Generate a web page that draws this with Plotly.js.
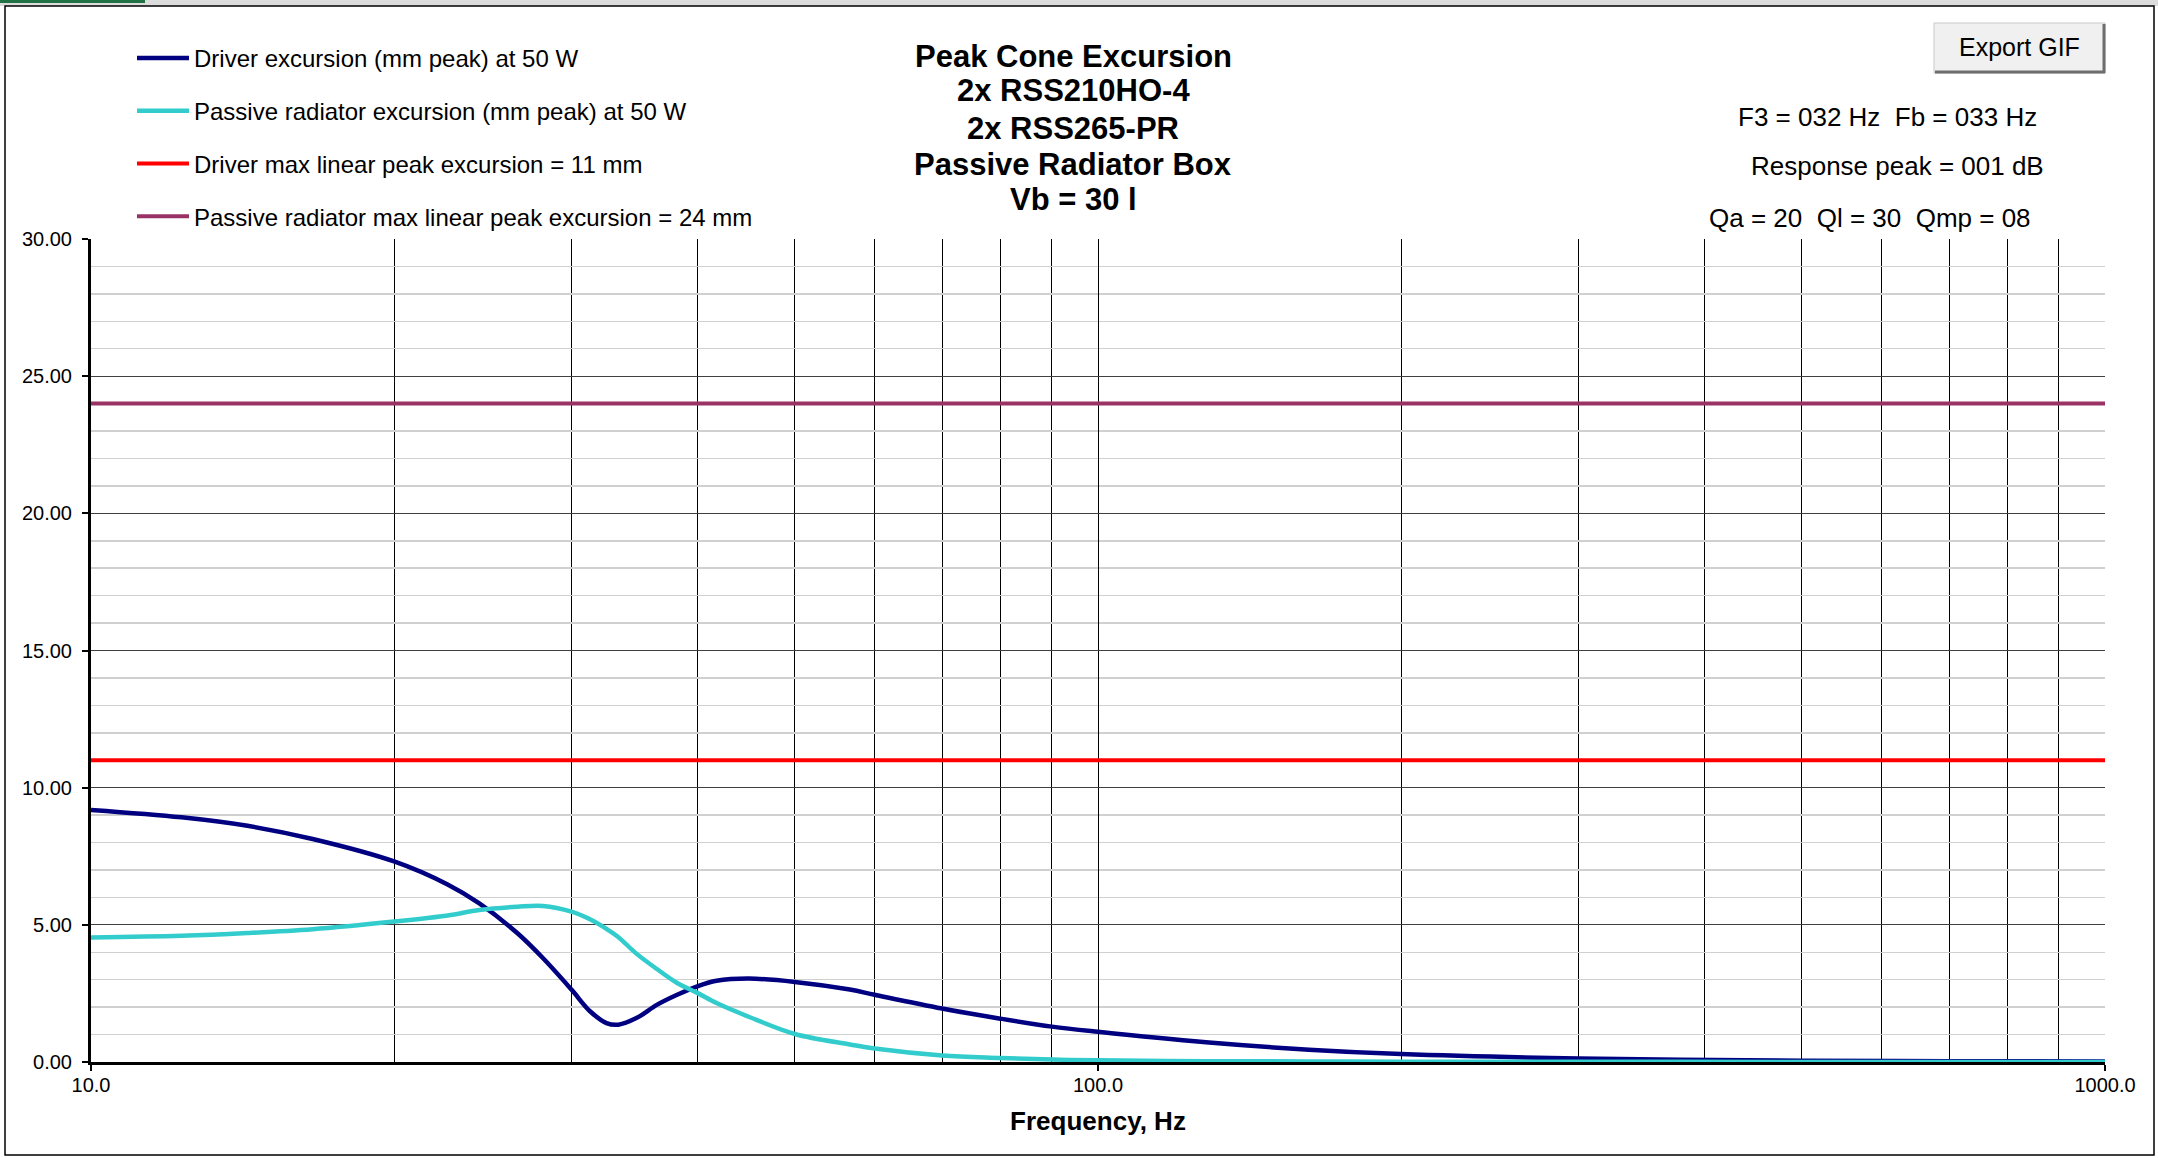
<!DOCTYPE html>
<html>
<head>
<meta charset="utf-8">
<script src="https://cdn.plot.ly/plotly-3.0.1.min.js"></script>
<style>
  html, body { margin: 0; padding: 0; background: #ffffff; }
  #chart { width: 2158px; height: 1158px; }
</style>
</head>
<body>
<div id="chart"></div>
<script>
// ---- Data ----
const freqHz = [10, 12.3, 14.3, 16.6, 20, 22.6, 24.3, 26.5, 28.1, 30, 31.3, 32.5, 33.4, 34.8, 36.5, 38.2, 40, 41.8, 45, 50, 56.7, 60, 70, 80, 90, 100, 128, 162, 200, 300, 500, 700, 1000];
const driverExcursion = [9.19, 8.92, 8.61, 8.13, 7.31, 6.47, 5.78, 4.70, 3.79, 2.64, 1.85, 1.42, 1.36, 1.60, 2.09, 2.45, 2.76, 2.96, 3.04, 2.92, 2.64, 2.45, 1.95, 1.58, 1.29, 1.10, 0.72, 0.45, 0.29, 0.13, 0.05, 0.03, 0.02];
const passiveExcursion = [4.54, 4.60, 4.70, 4.84, 5.12, 5.34, 5.54, 5.66, 5.69, 5.48, 5.20, 4.85, 4.55, 3.95, 3.38, 2.88, 2.52, 2.15, 1.65, 1.02, 0.64, 0.49, 0.24, 0.15, 0.09, 0.06, 0.03, 0.02, 0.01, 0.01, 0.0, 0.0, 0.0];
const limitRangeHz = [10, 1000];
const driverXmax = 11;
const passiveXmax = 24;

const seriesNames = [
  "Driver excursion (mm peak) at 50 W",
  "Passive radiator excursion (mm peak) at 50 W",
  "Driver max linear peak excursion = 11 mm",
  "Passive radiator max linear peak excursion = 24 mm"
];
const titleLines = ["Peak Cone Excursion", "2x RSS210HO-4", "2x RSS265-PR", "Passive Radiator Box", "Vb = 30 l"];
const infoLines = ["F3 = 032 Hz  Fb = 033 Hz", "Response peak = 001 dB", "Qa = 20  Ql = 30  Qmp = 08"];
const xTickVals = [10, 100, 1000];
const xTickText = ["10.0", "100.0", "1000.0"];
const xMinorVals = [20, 30, 40, 50, 60, 70, 80, 90, 200, 300, 400, 500, 600, 700, 800, 900];

// ---- Layout geometry ----
const W = 2158, H = 1158;
const M = { l: 91, r: 53, t: 239, b: 96 };
const PW = W - M.l - M.r, PH = H - M.t - M.b;
const px = x => (x - M.l) / PW;
const py = y => (H - M.b - y) / PH;

const FONT = "Liberation Sans, Arial, sans-serif";

const traces = [
  { x: freqHz, y: driverExcursion, name: seriesNames[0], mode: "lines", legendgroup: "a",
    line: { color: "#000080", width: 4.5, shape: "spline", smoothing: 1 }, hoverinfo: "skip" },
  { x: freqHz, y: passiveExcursion, name: seriesNames[1], mode: "lines", legendgroup: "b",
    line: { color: "#33CCCC", width: 4.5, shape: "spline", smoothing: 1 }, hoverinfo: "skip" },
  { x: limitRangeHz, y: limitRangeHz.map(() => driverXmax), name: seriesNames[2], mode: "lines", legendgroup: "c",
    line: { color: "#FF0000", width: 4 }, hoverinfo: "skip" },
  { x: limitRangeHz, y: limitRangeHz.map(() => passiveXmax), name: seriesNames[3], mode: "lines", legendgroup: "d",
    line: { color: "#993366", width: 4 }, hoverinfo: "skip" }
];

const annotations = [];
const titleY = [56, 91, 128, 164, 199];
titleLines.forEach((t, i) => annotations.push({
  text: t, xref: "paper", yref: "paper", x: px(1073), y: py(titleY[i]),
  xanchor: "center", yanchor: "middle", showarrow: false,
  font: { family: FONT, size: 31, color: "#000000", weight: "bold" }
}));
const infoX = [1887, 1897, 1870], infoY = [117, 166, 218];
infoLines.forEach((t, i) => annotations.push({
  text: t, xref: "paper", yref: "paper", x: px(infoX[i]), y: py(infoY[i]),
  xanchor: "center", yanchor: "middle", showarrow: false,
  font: { family: FONT, size: 26, color: "#000000" }
}));
annotations.push({
  text: "Export GIF", xref: "paper", yref: "paper", x: px(2019), y: py(47),
  xanchor: "center", yanchor: "middle", showarrow: false,
  font: { family: FONT, size: 25, color: "#000000" }
});

const shapes = [
  // Excel sheet strip above the chart frame
  { type: "rect", xref: "paper", yref: "paper", x0: px(0), x1: px(W), y0: py(0), y1: py(6),
    fillcolor: "#dcdcdc", line: { width: 0 }, layer: "below" },
  { type: "rect", xref: "paper", yref: "paper", x0: px(0), x1: px(145), y0: py(0), y1: py(3),
    fillcolor: "#217346", line: { width: 0 }, layer: "below" },
  // chart frame
  { type: "rect", xref: "paper", yref: "paper", x0: px(5), x1: px(2154), y0: py(6), y1: py(1155),
    fillcolor: "rgba(0,0,0,0)", line: { color: "#000000", width: 1.5 }, layer: "below" },
  // Export GIF button
  { type: "rect", xref: "paper", yref: "paper", x0: px(1934), x1: px(2105), y0: py(23), y1: py(73),
    fillcolor: "#f0f0f0", line: { color: "#c8c8c8", width: 1 } },
  { type: "line", xref: "paper", yref: "paper", x0: px(2104), x1: px(2104), y0: py(24), y1: py(73),
    line: { color: "#6e6e6e", width: 3 } },
  { type: "line", xref: "paper", yref: "paper", x0: px(1935), x1: px(2105), y0: py(72), y1: py(72),
    line: { color: "#6e6e6e", width: 3 } }
];

const layout = {
  width: W, height: H,
  margin: M,
  paper_bgcolor: "#ffffff", plot_bgcolor: "#ffffff",
  font: { family: FONT, color: "#000000" },
  showlegend: true,
  legend: {
    x: px(132), y: py(36), xanchor: "left", yanchor: "top",
    bgcolor: "rgba(0,0,0,0)", borderwidth: 0,
    font: { family: FONT, size: 24, color: "#000000" },
    tracegroupgap: 18.5, itemwidth: 52, traceorder: "grouped"
  },
  xaxis: {
    type: "log", range: [1, 3], autorange: false,
    tickmode: "array", tickvals: xTickVals, ticktext: xTickText,
    ticks: "outside", ticklen: 6, tickwidth: 2, tickcolor: "#000000",
    ticklabelstandoff: -3,
    tickfont: { family: FONT, size: 20, color: "#000000" },
    showgrid: true, gridcolor: "#000000", gridwidth: 1,
    minor: { tickmode: "array", tickvals: xMinorVals, showgrid: true, gridcolor: "#000000", gridwidth: 1, ticks: "" },
    showline: true, linecolor: "#000000", linewidth: 3,
    zeroline: false,
    title: { text: "Frequency, Hz", font: { family: FONT, size: 26, weight: "bold", color: "#000000" }, standoff: 17 }
  },
  yaxis: {
    range: [0, 30], autorange: false,
    tickmode: "linear", tick0: 0, dtick: 5, tickformat: ".2f",
    ticks: "outside", ticklen: 6, tickwidth: 2, tickcolor: "#000000",
    ticklabelstandoff: 6,
    tickfont: { family: FONT, size: 20, color: "#000000" },
    showgrid: true, gridcolor: "#404040", gridwidth: 1,
    minor: { tickmode: "linear", dtick: 1, showgrid: true, gridcolor: "#d0d0d0", gridwidth: 1.5, ticks: "" },
    showline: true, linecolor: "#000000", linewidth: 3,
    zeroline: false
  },
  annotations: annotations,
  shapes: shapes
};

Plotly.newPlot("chart", traces, layout, { displayModeBar: false, staticPlot: true });
</script>
</body>
</html>
